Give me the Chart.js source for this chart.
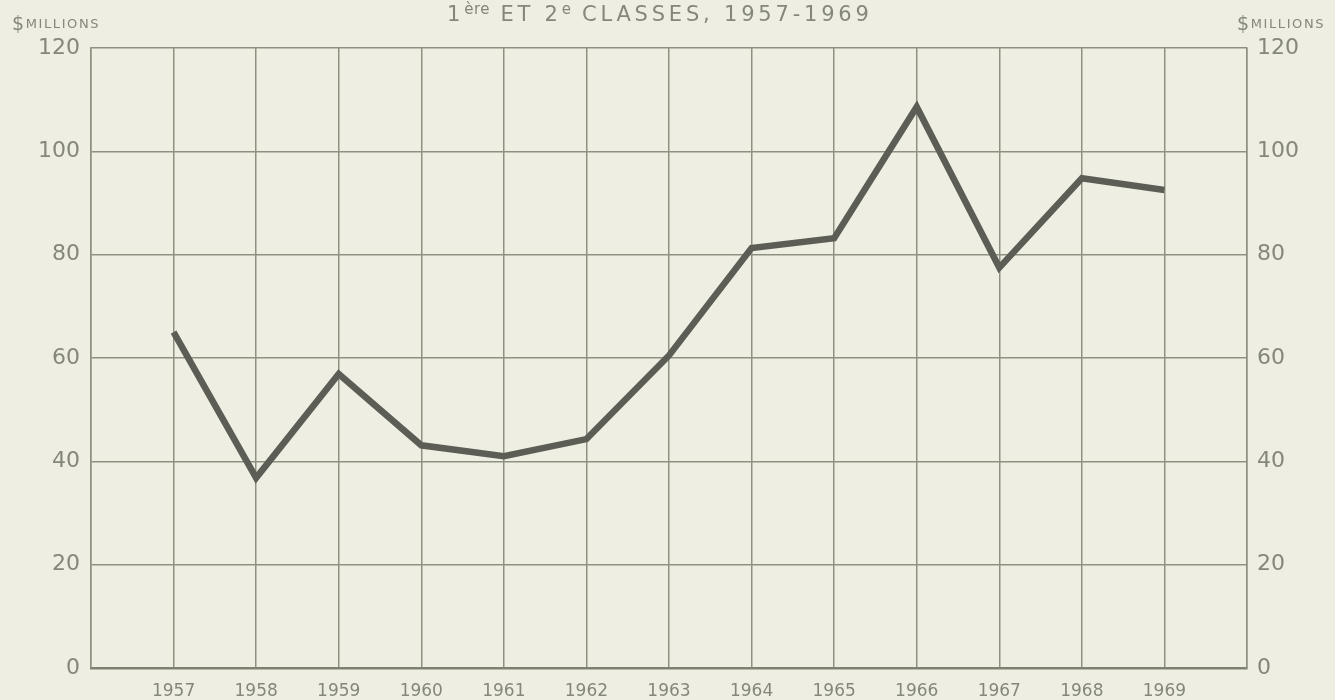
<!DOCTYPE html>
<html>
<head>
<meta charset="utf-8">
<script src="https://cdn.jsdelivr.net/npm/chart.js@4"></script>
<style>
  html, body { margin: 0; padding: 0; background: #eeeee2; }
  #wrap { position: relative; width: 1335px; height: 700px; overflow: hidden; }
  #chart { position: absolute; left: 0; top: 0; }
  .lbl { position: absolute; font-family: "DejaVu Sans", sans-serif; color: #85877c; white-space: nowrap; }
  #title { left: 447px; top: 0px; font-size: 21px; letter-spacing: 3.8px; }
  #title sup { font-size: 15px; vertical-align: 7px; letter-spacing: 0.5px; }
  .unit { top: 12px; font-size: 13px; letter-spacing: 1.6px; }
  .unit b { font-weight: normal; font-size: 19px; vertical-align: -2px; margin-right: 0px; }
</style>
</head>
<body>
<div id="wrap">
  <canvas id="chart" width="1335" height="700"></canvas>
  <div id="title" class="lbl">1<sup>ère</sup> ET 2<sup>e</sup> CLASSES, 1957-1969</div>
  <div class="lbl unit" style="left:12px;"><b>$</b>MILLIONS</div>
  <div class="lbl unit" style="left:1237px;"><b>$</b>MILLIONS</div>
</div>
<script>
// values, $ millions
const years = [1957, 1958, 1959, 1960, 1961, 1962, 1963, 1964, 1965, 1966, 1967, 1968, 1969];
const values = [65.0, 36.8, 56.9, 43.1, 41.0, 44.3, 60.5, 81.3, 83.2, 108.6, 77.5, 94.8, 92.5];
const yTicks = [0, 20, 40, 60, 80, 100, 120];

const ink = '#85877c';
const gridColor = '#8e9181';

var ctx = document.getElementById('chart').getContext('2d');
var chart = new Chart(ctx, {
    type: 'line',
    data: {
        datasets: [{
            data: years.map((yr, i) => ({ x: yr, y: values[i] })),
            borderColor: '#5c5e56',
            borderWidth: 6.5,
            pointRadius: 0,
            tension: 0,
            fill: false
        }]
    },
    options: {
        responsive: false,
        animation: false,
        layout: { padding: { top: 48, left: 0, right: 0, bottom: 0 } },
        plugins: { legend: { display: false }, tooltip: { enabled: false } },
        scales: {
            x: {
                type: 'linear',
                min: years[0] - 1,
                max: years[years.length - 1] + 1,
                afterFit: s => { s.height = 32; },
                afterBuildTicks: s => { s.ticks = []; for (let v = s.min; v <= s.max; v++) s.ticks.push({ value: v }); },
                grid: { color: gridColor, lineWidth: 1.5, drawTicks: false },
                border: { color: '#7e8172', width: 2.5 },
                ticks: {
                    padding: 13,
                    color: ink,
                    font: { family: 'DejaVu Sans', size: 17 },
                    callback: v => years.includes(v) ? String(v) : ''
                }
            },
            y: {
                position: 'left',
                min: 0,
                max: 120,
                afterFit: s => { s.width = 91; },
                afterBuildTicks: s => { s.ticks = yTicks.map(v => ({ value: v })); },
                grid: { color: gridColor, lineWidth: 1.5, drawTicks: false },
                border: { color: gridColor, width: 1.5 },
                ticks: { padding: 11, color: ink, font: { family: 'DejaVu Sans', size: 22 } }
            },
            y2: {
                position: 'right',
                min: 0,
                max: 120,
                afterFit: s => { s.width = 88; },
                afterBuildTicks: s => { s.ticks = yTicks.map(v => ({ value: v })); },
                grid: { display: false, drawTicks: false },
                border: { color: gridColor, width: 1.5 },
                ticks: { padding: 10, color: ink, font: { family: 'DejaVu Sans', size: 22 } }
            }
        }
    }
});
</script>
</body>
</html>
